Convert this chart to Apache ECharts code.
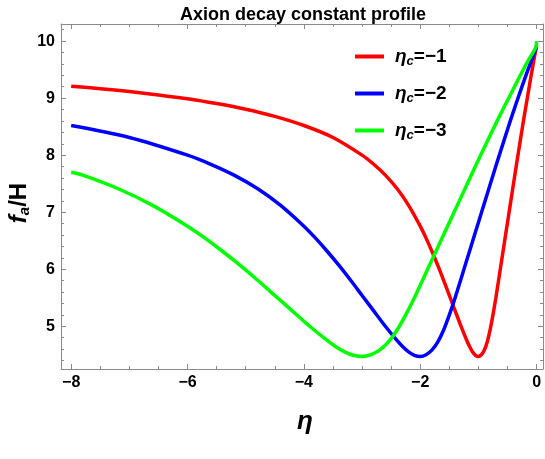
<!DOCTYPE html>
<html><head><meta charset="utf-8">
<script src="https://cdn.jsdelivr.net/npm/echarts@6/dist/echarts.min.js"></script>
<style>html,body{margin:0;padding:0;background:#fff}#c{width:545px;height:459px}</style>
</head><body><div id="c"></div>
<script>
const titleText = 'Axion decay constant profile';
const seriesNames = ['=\u22121', '=\u22122', '=\u22123'];
const seriesColors = ['#ff0000', '#0000ff', '#00ff00'];

const redEta = [-8, -7.5, -7, -6.5, -6, -5.5, -5, -4.5, -4, -3.5, -3, -2.8, -2.6, -2.4, -2.2, -2.0, -1.9, -1.8, -1.7, -1.6, -1.5, -1.4, -1.3, -1.2, -1.15, -1.1, -1.05, -1.0, -0.95, -0.9, -0.85, -0.8, -0.75, -0.7, -0.65, -0.6, -0.55, -0.5, -0.45, -0.4, -0.35, -0.3, -0.25, -0.2, -0.15, -0.1, -0.05, 0];
const redVal = [9.21, 9.165, 9.115, 9.055, 8.99, 8.905, 8.805, 8.68, 8.52, 8.31, 8.00, 7.84, 7.65, 7.415, 7.12, 6.755, 6.545, 6.315, 6.07, 5.81, 5.54, 5.27, 5.00, 4.75, 4.64, 4.55, 4.49, 4.47, 4.50, 4.58, 4.72, 4.93, 5.20, 5.50, 5.83, 6.16, 6.49, 6.82, 7.15, 7.48, 7.81, 8.13, 8.45, 8.76, 9.06, 9.36, 9.65, 9.93];

const blueEta = [-8, -7, -6, -5.6, -5.2, -4.8, -4.4, -4.0, -3.8, -3.6, -3.4, -3.2, -3.0, -2.8, -2.6, -2.4, -2.3, -2.2, -2.1, -2.0, -1.9, -1.8, -1.7, -1.6, -1.5, -1.4, -1.3, -1.2, -1.1, -1.0, -0.9, -0.8, -0.7, -0.6, -0.5, -0.4, -0.3, -0.2, -0.1, 0];
const blueVal = [8.52, 8.31, 8.00, 7.84, 7.65, 7.415, 7.12, 6.755, 6.545, 6.315, 6.07, 5.81, 5.54, 5.27, 5.00, 4.75, 4.64, 4.55, 4.49, 4.47, 4.50, 4.58, 4.72, 4.93, 5.20, 5.50, 5.83, 6.16, 6.49, 6.82, 7.15, 7.48, 7.81, 8.13, 8.45, 8.76, 9.06, 9.35, 9.63, 9.90];

const greenEta = [-8, -7.8, -7.2, -6.6, -6.0, -5.7, -5.4, -5.1, -4.8, -4.5, -4.2, -3.9, -3.6, -3.45, -3.3, -3.15, -3.0, -2.85, -2.7, -2.55, -2.4, -2.25, -2.1, -1.95, -1.8, -1.65, -1.5, -1.35, -1.2, -1.05, -0.9, -0.75, -0.6, -0.45, -0.3, -0.15, -0.05, -0.01, 0];
const greenVal = [7.70, 7.65, 7.415, 7.12, 6.755, 6.545, 6.315, 6.07, 5.81, 5.54, 5.27, 5.00, 4.75, 4.64, 4.55, 4.49, 4.47, 4.50, 4.58, 4.72, 4.93, 5.20, 5.50, 5.83, 6.16, 6.49, 6.82, 7.15, 7.48, 7.81, 8.13, 8.45, 8.76, 9.06, 9.36, 9.65, 9.82, 9.90, 10.0];

const xMajorTicks = [-8, -6, -4, -2, 0];
const xMinorTicks = [-8, -7.5, -7, -6.5, -6, -5.5, -5, -4.5, -4, -3.5, -3, -2.5, -2, -1.5, -1, -0.5, 0];
const yMajorTicks = [5, 6, 7, 8, 9, 10];
const yMinorTicks = [4.4, 4.6, 4.8, 5, 5.2, 5.4, 5.6, 5.8, 6, 6.2, 6.4, 6.6, 6.8, 7, 7.2, 7.4, 7.6, 7.8, 8, 8.2, 8.4, 8.6, 8.8, 9, 9.2, 9.4, 9.6, 9.8, 10, 10.2];

const X_MIN = -8.175, X_MAX = 0.11, Y_MIN = 4.25, Y_MAX = 10.3;
const FONT = "'Liberation Sans Narrow', 'Arial Narrow', 'Liberation Sans', sans-serif";
const FRAME = '#8a8a8a';

function pairs(a, b) { return a.map((v, i) => [v, b[i]]); }
const minusFmt = v => String(v).replace('-', '\u2212');

function xAx(pos, ticks, len, withLine, withLabel) {
  return {
    type: 'value', position: pos, min: X_MIN, max: X_MAX,
    axisLine: { show: withLine, onZero: false, lineStyle: { color: FRAME, width: 1 } },
    axisTick: { show: true, inside: true, length: len, customValues: ticks, lineStyle: { color: FRAME } },
    axisLabel: withLabel ? { show: true, customValues: xMajorTicks, formatter: minusFmt, margin: 6,
      color: '#000', fontWeight: 'bold', fontSize: 16, fontFamily: FONT } : { show: false },
    splitLine: { show: false }
  };
}
function yAx(pos, ticks, len, withLine, withLabel) {
  return {
    type: 'value', position: pos, min: Y_MIN, max: Y_MAX,
    axisLine: { show: withLine, onZero: false, lineStyle: { color: FRAME, width: 1 } },
    axisTick: { show: true, inside: true, length: len, customValues: ticks, lineStyle: { color: FRAME } },
    axisLabel: withLabel ? { show: true, customValues: yMajorTicks, margin: 6,
      color: '#000', fontWeight: 'bold', fontSize: 16, fontFamily: FONT } : { show: false },
    splitLine: { show: false }
  };
}

const xAxes = [xAx('bottom', xMajorTicks, 5, true, true), xAx('bottom', xMinorTicks, 3, false, false),
               xAx('top', xMajorTicks, 5, true, false), xAx('top', xMinorTicks, 3, false, false)];
xAxes[0].name = '\u03b7';
xAxes[0].nameLocation = 'middle';
xAxes[0].nameGap = 40;
xAxes[0].nameTextStyle = { fontFamily: FONT, fontStyle: 'italic', fontWeight: 'bold', fontSize: 26, color: '#000', padding: [0, 0, 0, 6] };

const yAxes = [yAx('left', yMajorTicks, 5, true, true), yAx('left', yMinorTicks, 3, false, false),
               yAx('right', yMajorTicks, 5, true, false), yAx('right', yMinorTicks, 3, false, false)];

const yTitleRich = {
  f: { fontFamily: FONT, fontStyle: 'italic', fontWeight: 'bold', fontSize: 24, lineHeight: 26, fill: '#000' },
  a: { fontFamily: FONT, fontStyle: 'italic', fontWeight: 'bold', fontSize: 15, lineHeight: 16, verticalAlign: 'bottom', fill: '#000' },
  h: { fontFamily: FONT, fontWeight: 'bold', fontSize: 24, lineHeight: 26, fill: '#000' }
};

const series = [
  { eta: redEta, val: redVal }, { eta: blueEta, val: blueVal }, { eta: greenEta, val: greenVal }
].map((s, i) => ({
  name: seriesNames[i], type: 'line', xAxisIndex: 0, yAxisIndex: 0,
  data: pairs(s.eta, s.val), showSymbol: false, smooth: 0.3,
  lineStyle: { color: seriesColors[i], width: 3.5 }, itemStyle: { color: seriesColors[i] },
  emphasis: { disabled: true }, animation: false
}));

const chart = echarts.init(document.getElementById('c'), null, { renderer: 'canvas' });
chart.setOption({
  animation: false,
  backgroundColor: '#fff',
  title: { text: titleText, left: 298, textAlign: 'center', top: 1,
    textStyle: { fontFamily: FONT, fontWeight: 'bold', fontSize: 18, color: '#000' } },
  grid: { left: 61, top: 24, width: 482, height: 345, containLabel: false, outerBoundsMode: 'none' },
  graphic: [{
    type: 'text', x: 19, y: 203, rotation: Math.PI / 2,
    style: { text: '{f|f}{a|a}{h|/H}', rich: yTitleRich, align: 'center', verticalAlign: 'middle', fill: '#000' }
  }],
  legend: {
    orient: 'vertical', left: 350, top: 42, itemWidth: 29, itemHeight: 4, itemGap: 16.5,
    icon: 'rect', selectedMode: false,
    data: seriesNames,
    formatter: n => '{e|\u03b7}{c|c}{t|' + n + '}',
    textStyle: {
      color: '#000',
      rich: {
        e: { fontFamily: FONT, fontStyle: 'italic', fontWeight: 'bold', fontSize: 19, lineHeight: 22, padding: [0, 0, 0, 6], color: '#000' },
        c: { fontFamily: FONT, fontStyle: 'italic', fontWeight: 'bold', fontSize: 13, lineHeight: 13, verticalAlign: 'bottom', color: '#000' },
        t: { fontFamily: FONT, fontWeight: 'bold', fontSize: 19, lineHeight: 22, color: '#000' }
      }
    }
  },
  xAxis: xAxes,
  yAxis: yAxes,
  series: series
});
</script></body></html>
